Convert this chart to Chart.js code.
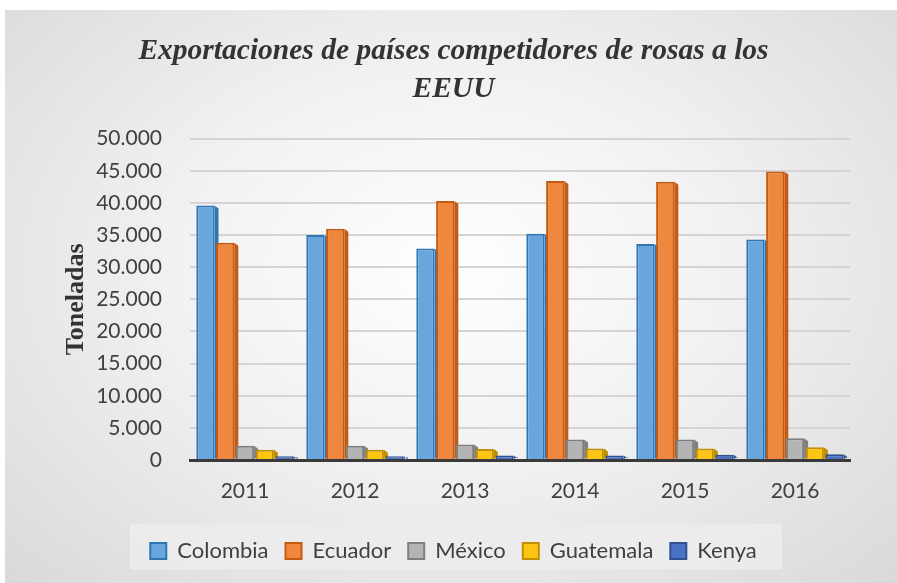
<!DOCTYPE html>
<html>
<head>
<meta charset="utf-8">
<script src="https://cdn.jsdelivr.net/npm/chart.js@4"></script>
<style>
  html, body { margin: 0; padding: 0; background: #fff; }
  #wrap {
    position: absolute; left: 5px; top: 10px; width: 892px; height: 573px;
    background: radial-gradient(ellipse at 50% 45%, #ffffff 0%, #f1f1f1 45%, #d9d9d9 100%);
  }
  canvas { display: block; }
</style>
</head>
<body>
<div id="wrap"><canvas id="c" width="892" height="573"></canvas></div>
<script>
// years on the x axis
const years = ["2011", "2012", "2013", "2014", "2015", "2016"];

// tonnes exported to the US
const colombia  = [39600, 35000, 32900, 35200, 33600, 34300];
const ecuador   = [33800, 36000, 40300, 43400, 43300, 44900];
const mexico    = [2200, 2200, 2400, 3200, 3200, 3400];
const guatemala = [1600, 1600, 1700, 1800, 1800, 2000];
const kenya     = [600, 600, 700, 700, 800, 900];

const yTicks = [0, 5000, 10000, 15000, 20000, 25000, 30000, 35000, 40000, 45000, 50000];

const series = [
  { label: "Colombia",  data: colombia,  color: "#69a6de", border: "#2e75b6" },
  { label: "Ecuador",   data: ecuador,   color: "#f0873f", border: "#c55a11" },
  { label: "México",    data: mexico,    color: "#b4b4b4", border: "#7f7f7f" },
  { label: "Guatemala", data: guatemala, color: "#ffc514", border: "#bf9000" },
  { label: "Kenya",     data: kenya,     color: "#4a72c4", border: "#2f528f" }
];

// thousands with a dot, like the original
const fmt = v => String(v).replace(/\B(?=(\d{3})+(?!\d))/g, ".");

// light box behind the legend
const legendBox = {
  id: "legendBox",
  beforeDraw(chart) {
    const l = chart.legend;
    if (!l) return;
    const ctx = chart.ctx;
    const mid = l.top + l.height / 2;
    ctx.save();
    ctx.fillStyle = "rgba(236,236,236,0.9)";
    ctx.fillRect(125, mid - 23, 652, 45);
    ctx.restore();
  }
};

// darker side face to hint at the 3d look
const sideFace = {
  id: "sideFace",
  beforeDatasetsDraw(chart) {
    const ctx = chart.ctx;
    ctx.save();
    chart.data.datasets.forEach((ds, i) => {
      chart.getDatasetMeta(i).data.forEach(bar => {
        const w = bar.width, x = bar.x + w / 2, y = bar.y, b = bar.base;
        ctx.fillStyle = ds.borderColor;
        ctx.beginPath();
        ctx.moveTo(x, y);
        ctx.lineTo(x + 4, y + 3);
        ctx.lineTo(x + 4, b - 2);
        ctx.lineTo(x, b);
        ctx.closePath();
        ctx.fill();
      });
    });
    ctx.restore();
  }
};

new Chart(document.getElementById("c"), {
  type: "bar",
  data: {
    labels: years,
    datasets: series.map(s => ({
      label: s.label,
      data: s.data,
      backgroundColor: s.color,
      borderColor: s.border,
      borderWidth: 2,
      categoryPercentage: 0.9,
      barPercentage: 0.92
    }))
  },
  options: {
    responsive: false,
    animation: false,
    layout: { padding: { left: 52, right: 47, top: 0, bottom: 11 } },
    plugins: {
      title: {
        display: true,
        text: ["Exportaciones de países competidores de rosas a los", "EEUU"],
        color: "#333333",
        font: { family: "Liberation Serif", size: 29.5, style: "italic", weight: "bold", lineHeight: 1.3 },
        padding: { top: 22, bottom: 30 }
      },
      legend: {
        position: "bottom",
        labels: {
          color: "#404040",
          font: { family: "Lato", size: 22 },
          boxWidth: 16,
          boxHeight: 16,
          padding: 17,
          useBorderRadius: false
        }
      },
      tooltip: { enabled: false }
    },
    scales: {
      x: {
        afterFit: ax => { ax.height = 63; },
        grid: { display: false },
        border: { display: true, color: "#3a3a3a", width: 3 },
        ticks: { color: "#404040", font: { family: "Lato", size: 21 }, padding: 11 }
      },
      y: {
        min: 0,
        max: 50000,
        afterBuildTicks: ax => { ax.ticks = yTicks.map(v => ({ value: v })); },
        afterFit: ax => { ax.width = 133; },
        grid: { color: "#d4d4d4", lineWidth: 2, drawTicks: false },
        border: { display: false },
        ticks: { color: "#404040", font: { family: "Lato", size: 21 }, padding: 28, callback: v => fmt(v) },
        title: {
          display: true,
          text: "Toneladas",
          color: "#333333",
          font: { family: "Liberation Serif", size: 26, weight: "bold" },
          padding: { bottom: 0 }
        }
      }
    }
  },
  plugins: [legendBox, sideFace]
});
</script>
</body>
</html>
